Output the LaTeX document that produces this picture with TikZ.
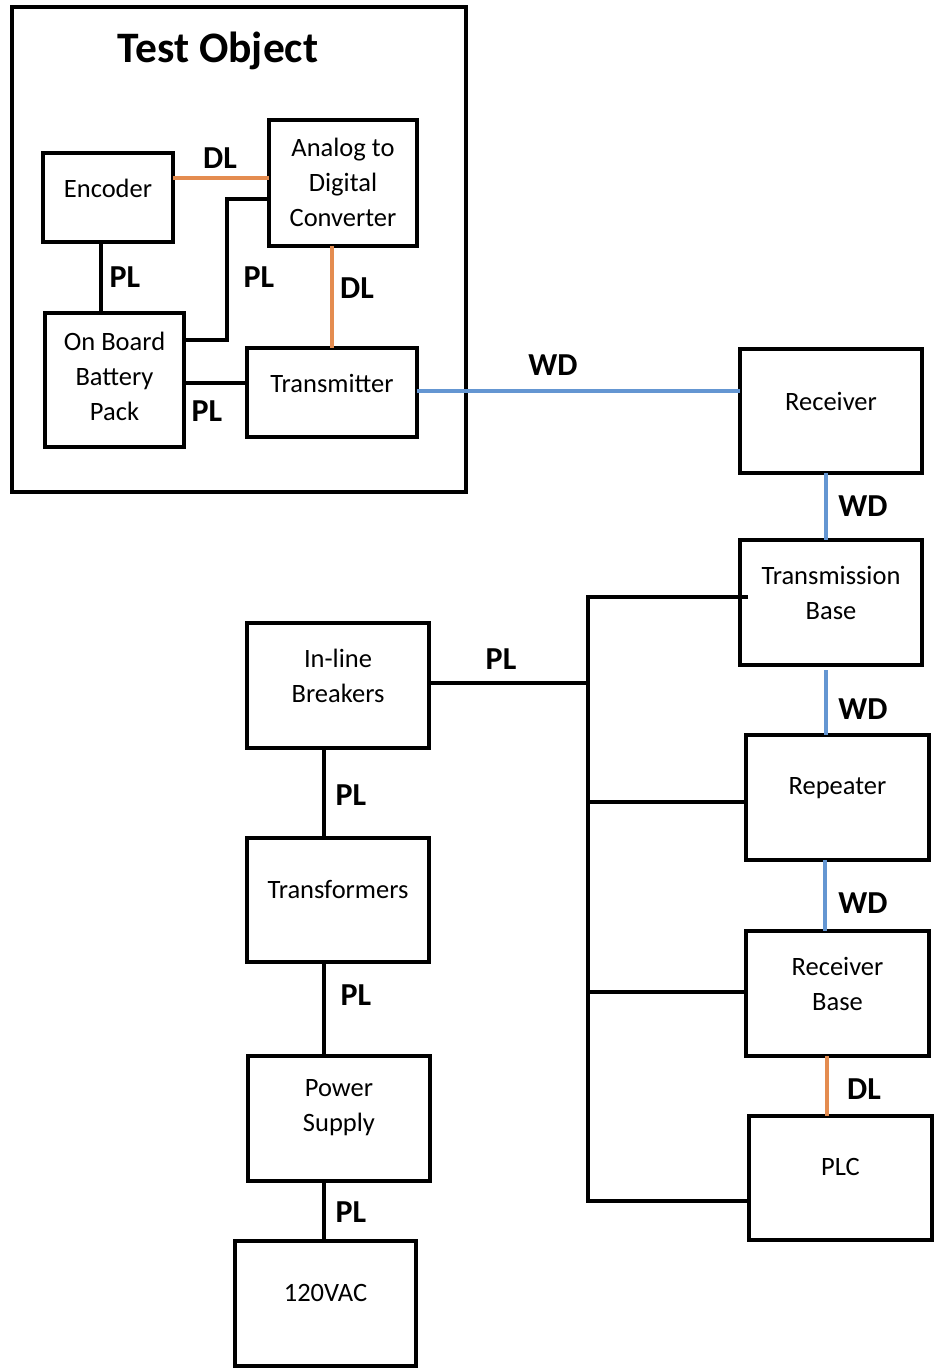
\documentclass[tikz,border=0pt]{standalone}
\usepackage{fontspec}
\setmainfont{Carlito}
\definecolor{dlorange}{RGB}{228,140,80}
\definecolor{wdblue}{RGB}{100,150,210}
\begin{document}
\begin{tikzpicture}[x=1pt,y=-1pt,
  box/.style={draw, line width=3.2pt, outer sep=0pt, inner sep=0pt},
  txt/.style={font=\fontsize{26.5}{35}\selectfont, align=center, anchor=center, inner sep=0pt},
  lbl/.style={font=\bfseries\fontsize{32}{32}\selectfont, inner sep=0pt},
  pl/.style={line width=4.2pt, black},
  dl/.style={line width=3.6pt, dlorange},
  wd/.style={line width=3.6pt, wdblue}]
\useasboundingbox (0,0) rectangle (937,1372);
% Test object frame
\node[box, minimum width=454pt, minimum height=485pt] (frame) at (239,249.5) {};
\node[font=\bfseries\fontsize{43.5}{43.5}\selectfont, inner sep=0pt] (title) at (218,51) {Test Object};
% boxes inside
\node[box, minimum width=130pt, minimum height=89pt, label={[txt, yshift=-35pt]north:Encoder}] (enc) at (108,197.5) {};
\node[box, minimum width=148pt, minimum height=126pt, label={[txt, yshift=-62pt]north:{Analog to\\Digital\\Converter}}] (adc) at (343,183) {};
\node[box, minimum width=139pt, minimum height=134pt, label={[txt, yshift=-63pt]north:{On Board\\Battery\\Pack}}] (bat) at (114.5,380) {};
\node[box, minimum width=170pt, minimum height=89pt, label={[txt, yshift=-35pt]north:Transmitter}] (tx) at (332,392.5) {};
% right column
\node[box, minimum width=182pt, minimum height=124pt, label={[txt, yshift=-52pt]north:Receiver}] (rx) at (831,411) {};
\node[box, minimum width=182pt, minimum height=125pt, label={[txt, yshift=-53pt]north:{Transmission\\Base}}] (tb) at (831,602.5) {};
\node[box, minimum width=183pt, minimum height=125pt, label={[txt, yshift=-53pt]north:Repeater}] (rep) at (837.5,797.5) {};
\node[box, minimum width=183pt, minimum height=125pt, label={[txt, yshift=-53pt]north:{Receiver\\Base}}] (rb) at (837.5,993.5) {};
\node[box, minimum width=183pt, minimum height=124pt, label={[txt, yshift=-51pt]north:PLC}] (plc) at (840.5,1178) {};
% left column
\node[box, minimum width=182pt, minimum height=125pt, label={[txt, yshift=-53pt]north:{In-line\\Breakers}}] (brk) at (338,685.5) {};
\node[box, minimum width=182pt, minimum height=124pt, label={[txt, yshift=-52pt]north:Transformers}] (trf) at (338,900) {};
\node[box, minimum width=182pt, minimum height=125pt, label={[txt, yshift=-52pt]north:{Power\\Supply}}] (ps) at (339,1118.5) {};
\node[box, minimum width=181pt, minimum height=125pt, label={[txt, yshift=-52pt]north:120VAC}] (ac) at (325.5,1303.5) {};
% connectors inside test object
\draw[dl] (enc.east |- 0,178) -- (adc.west |- 0,178);
\node[lbl] (l1) at (220,158) {DL};
\coordinate (k1) at (227,199);
\coordinate (k2) at (227,340);
\draw[pl] (adc.west |- k1) -- (k1) -- (k2) -- (bat.east |- k2);
\node[lbl] (l2) at (259,277) {PL};
\draw[pl] (101,244) coordinate (e1) -- (bat.north -| e1);
\node[lbl] (l3) at (125,277) {PL};
\draw[dl] (332,246) coordinate (a1) -- (tx.north -| a1);
\node[lbl] (l4) at (357,288) {DL};
\draw[pl] (bat.east |- 0,383) -- (tx.west |- 0,383);
\node[lbl] (l5) at (207,411) {PL};
% wireless
\draw[wd] (tx.east |- 0,391) -- (rx.west |- 0,391);
\node[lbl] (l6) at (553,365) {WD};
\draw[wd] (rx.south -| 826,0) -- (tb.north -| 826,0);
\node[lbl] (l7) at (863,506) {WD};
\draw[wd] (826,670) coordinate (w1) -- (rep.north -| w1);
\node[lbl] (l8) at (863,709) {WD};
\draw[wd] (rep.south -| 825,0) -- (rb.north -| 825,0);
\node[lbl] (l9) at (863,903) {WD};
\draw[dl] (rb.south -| 827,0) -- (plc.north -| 827,0);
\node[lbl] (l10) at (864,1089) {DL};
% power bus
\coordinate (bt) at (588,597);
\coordinate (b1) at (588,683);
\coordinate (b2) at (588,802);
\coordinate (b3) at (588,992);
\coordinate (bb) at (588,1201);
\coordinate (tbin) at (748,597);
\draw[pl] (tbin) -- (bt) -- (bb) -- (plc.west |- bb);
\draw[pl] (brk.east |- b1) -- (b1);
\node[lbl] (l11) at (501,659) {PL};
\draw[pl] (b2) -- (rep.west |- b2);
\draw[pl] (b3) -- (rb.west |- b3);
% left chain
\draw[pl] (brk.south -| 324,0) -- (trf.north -| 324,0);
\node[lbl] (l12) at (351,795) {PL};
\draw[pl] (trf.south -| 324,0) -- (ps.north -| 324,0);
\node[lbl] (l13) at (356,995) {PL};
\draw[pl] (ps.south -| 324,0) -- (ac.north -| 324,0);
\node[lbl] (l14) at (351,1212) {PL};
\end{tikzpicture}
\end{document}
